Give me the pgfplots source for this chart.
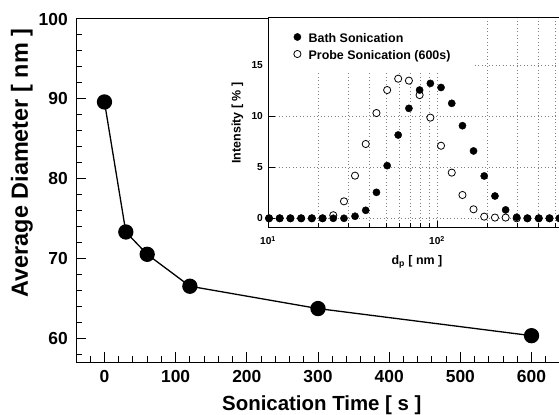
\documentclass[border=0pt]{standalone}
\usepackage{fontspec}
\setmainfont{Liberation Sans}
\usepackage{pgfplots}
\pgfplotsset{compat=1.18}
\begin{document}
\begin{tikzpicture}
\path[use as bounding box] (0,0) rectangle (559bp,415bp);
\begin{axis}[
  at={(76bp,53bp)}, anchor=south west, scale only axis,
  width=484bp, height=343bp,
  xmin=-40, xmax=640, ymin=57, ymax=100,
  xtick={0,100,...,600}, minor xtick={-20,0,...,620},
  ytick={60,70,80,90,100}, minor ytick={58,60,...,100},
  tick align=inside, xtick pos=bottom, ytick pos=left,
  major tick length=10bp, minor tick length=6bp,
  axis line style={line width=1bp},
  every tick/.style={line width=1bp, black},
  /pgf/number format/assume math mode=true,
  tick label style={font=\fontsize{17.5}{20}\selectfont\bfseries},
  xticklabel style={anchor=base, inner sep=0pt, yshift=-20bp},
  yticklabel style={anchor=east, inner sep=0pt, xshift=-8bp},
  xlabel={Sonication Time [ s ]}, ylabel={Average Diameter [ nm ]},
  xlabel style={font=\fontsize{20.5}{24}\selectfont\bfseries, at={(axis description cs:0.508,-0.14)}, anchor=base},
  ylabel style={font=\fontsize{23.5}{26}\selectfont\bfseries, at={(axis description cs:-0.1116,0.58)}, anchor=center},
]
\addplot[black, line width=1.3bp, mark=*, mark size=7bp, mark options={fill=black}]
  coordinates {(0,89.6) (30,73.3) (60,70.5) (120,66.5) (300,63.7) (600,60.3)};
\end{axis}
\begin{axis}[
  at={(268bp,187bp)}, anchor=south west, scale only axis,
  width=292bp, height=210bp,
  xmode=log, xmin=10, xmax=534, ymin=-0.95, ymax=19.6,
  xtick={10,100}, xticklabels={10\textsuperscript{1},10\textsuperscript{2}},
  minor xtick={20,30,40,50,60,70,80,90,200,300,400,500},
  ytick={0,5,10,15},
  tick align=inside, xtick pos=bottom, ytick pos=left,
  major tick length=7bp, minor tick length=5bp,
  axis line style={line width=1bp},
  every tick/.style={line width=0.9bp, black},
  xmajorgrids, xminorgrids, ymajorgrids,
  grid style={gray, line width=0.9bp, dash pattern=on 0.9bp off 2.6bp},
  major grid style={gray, line width=0.9bp, dash pattern=on 0.9bp off 2.6bp},
  minor grid style={gray, line width=0.9bp, dash pattern=on 0.9bp off 2.6bp},
  axis background/.style={fill=white},
  /pgf/number format/assume math mode=true,
  tick label style={font=\fontsize{10.2}{12}\selectfont\bfseries},
  xticklabel style={anchor=base, inner sep=0pt, yshift=-17bp},
  yticklabel style={anchor=east, inner sep=0pt, xshift=-5bp},
  xlabel={d\textsubscript{p} [ nm ]}, ylabel={Intensity [ \% ]},
  xlabel style={font=\fontsize{12.5}{14}\selectfont\bfseries, at={(axis description cs:0.51,-0.176)}, anchor=base},
  ylabel style={font=\fontsize{12.5}{14}\selectfont\bfseries, at={(axis description cs:-0.1045,0.5)}, anchor=center},
  legend style={at={(0,1)}, anchor=north west, xshift=0.6bp, yshift=-0.6bp,
    fill=white, draw=none, inner xsep=21.4bp, inner ysep=9.7bp, row sep=0bp,
    font=\fontsize{12.5}{14}\selectfont\bfseries,
    nodes={inner sep=0pt, text height=14bp, text depth=3bp}},
  legend cell align=left,
  legend image code/.code={\path (0bp,0bp) (18bp,0bp); \draw[#1] plot coordinates {(7bp,0bp)};},
]
\addplot[forget plot, only marks, mark=*, mark size=3.6bp, mark options={draw=black, fill=white, line width=0.8bp}]
  coordinates {
  (10.14,0) (11.73,0) (13.57,0) (15.71,0) (18.17,0) (21.03,0) (24.33,0.3) (28.15,1.66)
  (32.72,4.17) (37.86,7.27) (43.81,10.3) (50.70,12.55) (58.92,13.66) (68.19,13.47)
  (78.89,12.06) (91.30,9.85) (105.6,7.1) (122.2,4.47) (141.4,2.28) (164.4,0.88)
  (190.2,0.16) (220.1,0.07) (254.6,0.07) (296.0,0) (342.5,0) (399.9,0) (462.8,0) (530.8,0)};
\addplot[forget plot, only marks, mark=*, mark size=3.6bp, mark options={draw=black, fill=black}]
  coordinates {
  (10.14,0) (11.73,0) (13.57,0) (15.71,0) (18.17,0) (21.03,0) (24.33,0) (28.15,0)
  (32.72,0.2) (37.86,0.78) (43.81,2.54) (50.70,5.15) (58.92,8.15) (68.19,10.76)
  (78.89,12.55) (91.30,13.2) (105.6,12.8) (122.2,11.25) (141.4,9.06) (164.4,6.59)
  (190.2,4.14) (220.1,2.18) (254.6,0.82) (296.0,0.1) (342.5,0) (399.9,0) (462.8,0) (530.8,0)};
\addlegendimage{only marks, mark=*, mark size=3.6bp, mark options={draw=black, fill=black}}
\addlegendentry{Bath Sonication}
\addlegendimage{only marks, mark=*, mark size=3.6bp, mark options={draw=black, fill=white, line width=0.8bp}}
\addlegendentry{Probe Sonication (600s)}
\end{axis}
\end{tikzpicture}
\end{document}
